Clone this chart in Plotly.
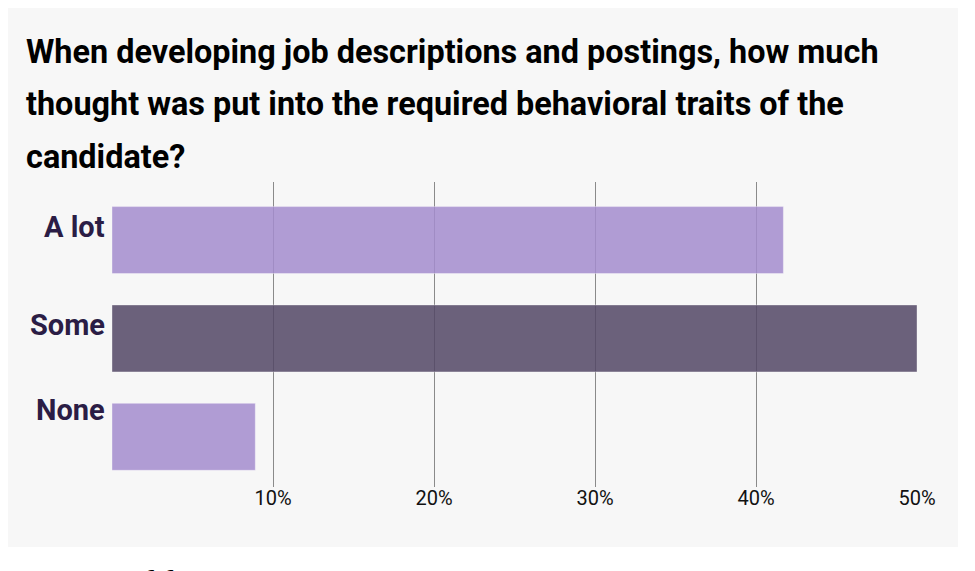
import plotly.graph_objects as go

# ---- data ----
categories = ["A lot", "Some", "None"]
values = [41.7, 50.0, 8.9]
bar_colors = ["rgba(163,140,206,0.85)", "rgba(82,70,101,0.85)", "rgba(163,140,206,0.85)"]
tick_values = [10, 20, 30, 40, 50]
tick_labels = ["10%", "20%", "30%", "40%", "50%"]
title_lines = [
    "When developing job descriptions and postings, how much",
    "thought was put into the required behavioral traits of the",
    "candidate?",
]
label_shifts = [13, 13, 27]
next_heading = "The brief for"

O = 8  # page body margin
W, H = 975 - O, 571 - O
L, R, T, B = 112 - O, 58, 182 - O, 84
PW, PH = W - L - R, H - T - B


def px(x):
    return (x - O - L) / PW


def py(y):
    return 1 - (y - O - T) / PH


fig = go.Figure()
fig.add_trace(go.Bar(
    y=categories, x=values, orientation="h",
    marker=dict(color=bar_colors, line=dict(color="rgba(255,255,255,0.35)", width=1)),
    width=0.68, hoverinfo="skip",
))

# background panel
fig.add_shape(type="rect", xref="paper", yref="paper",
              x0=px(4), x1=px(958), y0=py(547), y1=py(7),
              fillcolor="#f7f7f7", line_width=0, layer="below")

ann = []
for i, line in enumerate(title_lines):
    ann.append(dict(text=line, xref="paper", yref="paper",
                    x=px(24), xanchor="left",
                    y=py(65 + i * 52.5), yanchor="bottom", yshift=-8,
                    showarrow=False, align="left",
                    font=dict(family="Roboto", size=32.4, color="#000000", weight="bold")))
for cat, s in zip(categories, label_shifts):
    ann.append(dict(text=cat, xref="x", yref="y", x=0, y=cat, xanchor="right", xshift=-5,
                    yshift=s, showarrow=False,
                    font=dict(family="Roboto", size=29, color="#2b1d45", weight="bold")))
ann.append(dict(text=next_heading, xref="paper", yref="paper",
                x=px(22), xanchor="left",
                y=py(569), yanchor="top", yshift=7,
                showarrow=False,
                font=dict(family="Roboto", size=32, color="#000000", weight="bold")))

fig.update_layout(
    width=W, height=H,
    margin=dict(l=L, r=R, t=T, b=B),
    paper_bgcolor="#ffffff", plot_bgcolor="rgba(0,0,0,0)",
    showlegend=False, annotations=ann,
    xaxis=dict(range=[0, 50], tickvals=tick_values, ticktext=tick_labels,
               showgrid=True, gridcolor="#8a8a8a", gridwidth=1, zeroline=False,
               showline=False, ticks="", fixedrange=True, ticklabelstandoff=-3,
               tickfont=dict(family="Roboto", size=20, color="#111111")),
    yaxis=dict(type="category", categoryorder="array", categoryarray=categories,
               range=[2.51, -0.59], showticklabels=False, showgrid=False,
               zeroline=False, showline=False, ticks="", fixedrange=True),
)

fig.write_html("out.html", config={"displayModeBar": False})
